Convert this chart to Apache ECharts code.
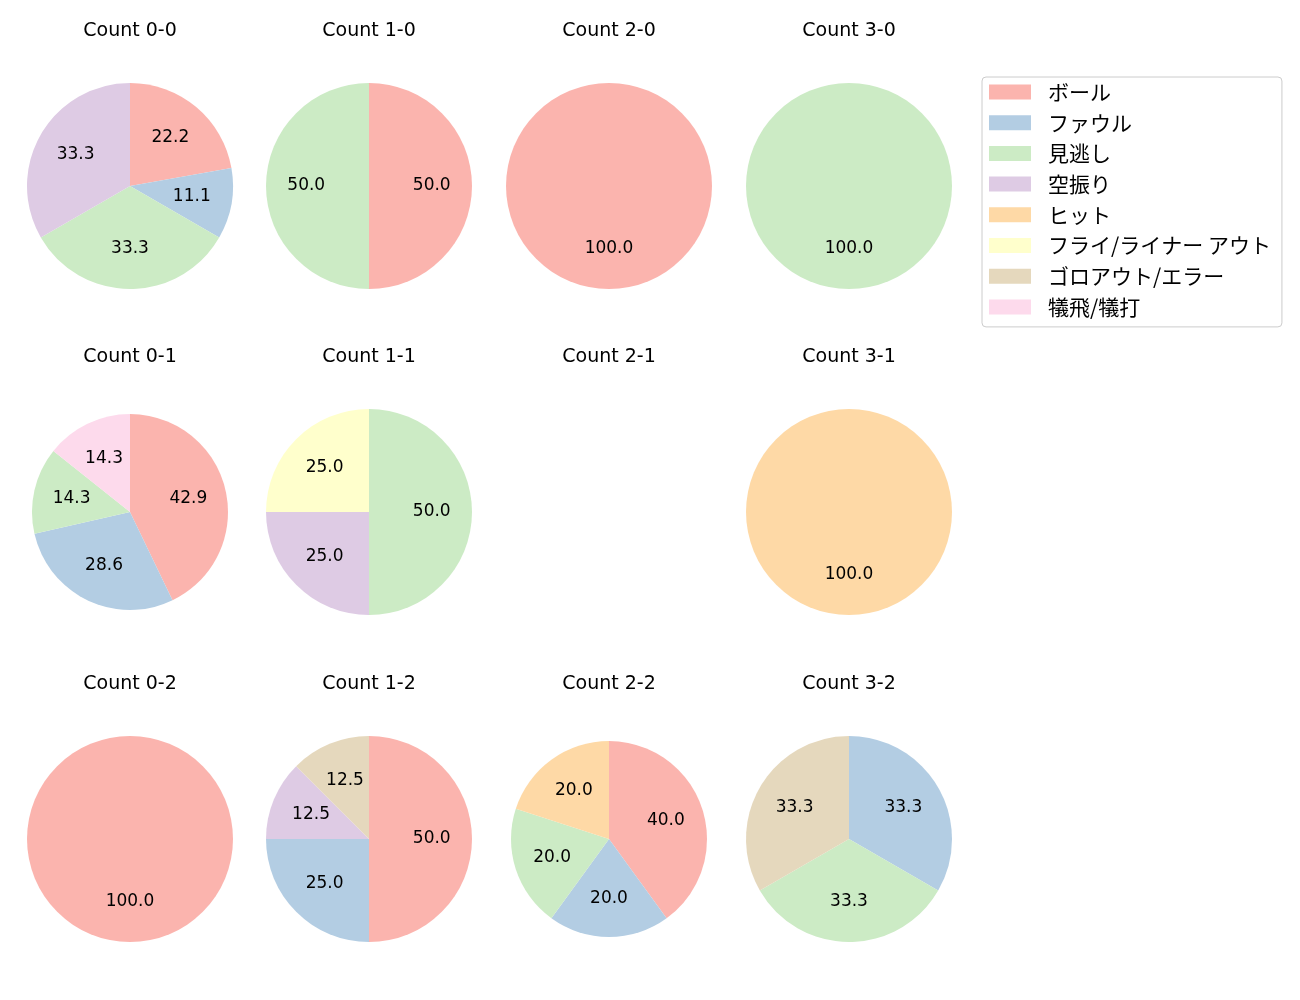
<!DOCTYPE html>
<html><head><meta charset="utf-8">
<script src="https://cdn.jsdelivr.net/npm/echarts@6/dist/echarts.min.js"></script>
<style>html,body{margin:0;padding:0;background:#fff}#c{width:1300px;height:1000px}</style>
</head><body><div id="c"></div>
<script>
const categories = ['ボール','ファウル','見逃し','空振り','ヒット','フライ/ライナー アウト','ゴロアウト/エラー','犠飛/犠打'];
const colors = ['#fbb4ae','#b3cde3','#ccebc5','#decbe4','#fed9a6','#ffffcc','#e5d8bd','#fddaec'];
const titles = ['Count 0-0','Count 1-0','Count 2-0','Count 3-0','Count 0-1','Count 1-1','Count 2-1','Count 3-1','Count 0-2','Count 1-2','Count 2-2','Count 3-2'];
// counts per category, in category order
const count00 = [2,1,3,3,0,0,0,0];
const count10 = [1,0,1,0,0,0,0,0];
const count20 = [1,0,0,0,0,0,0,0];
const count30 = [0,0,1,0,0,0,0,0];
const count01 = [3,2,1,0,0,0,0,1];
const count11 = [0,0,2,1,0,1,0,0];
const count21 = [0,0,0,0,0,0,0,0];
const count31 = [0,0,0,0,1,0,0,0];
const count02 = [1,0,0,0,0,0,0,0];
const count12 = [4,2,0,1,0,0,1,0];
const count22 = [2,1,1,0,1,0,0,0];
const count32 = [0,1,1,0,0,0,1,0];
const allCounts = [count00,count10,count20,count30,count01,count11,count21,count31,count02,count12,count22,count32];

const colX = [130,369,609,849];
const rowY = [186,512,839];
const radii = [103,103,103,103, 98,103,103,103, 103,103,98,103];
const CJK = '"Noto Sans CJK JP", sans-serif';
const LAT = '"DejaVu Sans", sans-serif';

const series = [];
const titleOpts = [];
allCounts.forEach((cnt, i) => {
  const cx = colX[i % 4], cy = rowY[Math.floor(i / 4)];
  titleOpts.push({text: titles[i], left: cx, top: cy - 164, textAlign: 'center', padding: 0,
    textStyle: {fontSize: 19, fontWeight: 'normal', color: '#000', fontFamily: LAT}});
  const total = cnt.reduce((a, b) => a + b, 0);
  if (total === 0) return;
  const data = [];
  cnt.forEach((v, k) => { if (v > 0) data.push({name: categories[k], value: v, itemStyle: {color: colors[k]}}); });
  const r = radii[i];
  series.push({type: 'pie', center: [cx, cy], radius: [0, r], startAngle: 90, clockwise: true,
    silent: true, animation: false, label: {show: false}, labelLine: {show: false},
    itemStyle: {borderWidth: 0}, emphasis: {disabled: true}, data: data});
  series.push({type: 'pie', center: [cx, cy], radius: [0, r * 1.16], startAngle: 90, clockwise: true,
    silent: true, animation: false, legendHoverLink: false,
    itemStyle: {color: 'rgba(0,0,0,0)', borderWidth: 0}, emphasis: {disabled: true},
    label: {show: true, position: 'inside', fontSize: 17, color: '#000', fontFamily: LAT,
      formatter: p => (p.value / total * 100).toFixed(1)},
    labelLine: {show: false},
    data: data.map(d => ({name: d.name + ' ', value: d.value}))});
});

const chart = echarts.init(document.getElementById('c'));
chart.setOption({
  backgroundColor: '#fff',
  animation: false,
  title: titleOpts,
  legend: {
    data: categories,
    orient: 'vertical', left: 982, top: 77,
    itemWidth: 42, itemHeight: 15, itemGap: 9.7,
    padding: [4.5, 11, 9.5, 7],
    borderColor: '#cccccc', borderWidth: 1, borderRadius: 4,
    icon: 'rect', selectedMode: false,
    textStyle: {fontSize: 21, lineHeight: 21, color: '#000', fontFamily: CJK, padding: [0, 0, 0, 12]}
  },
  series: series
});
</script></body></html>
